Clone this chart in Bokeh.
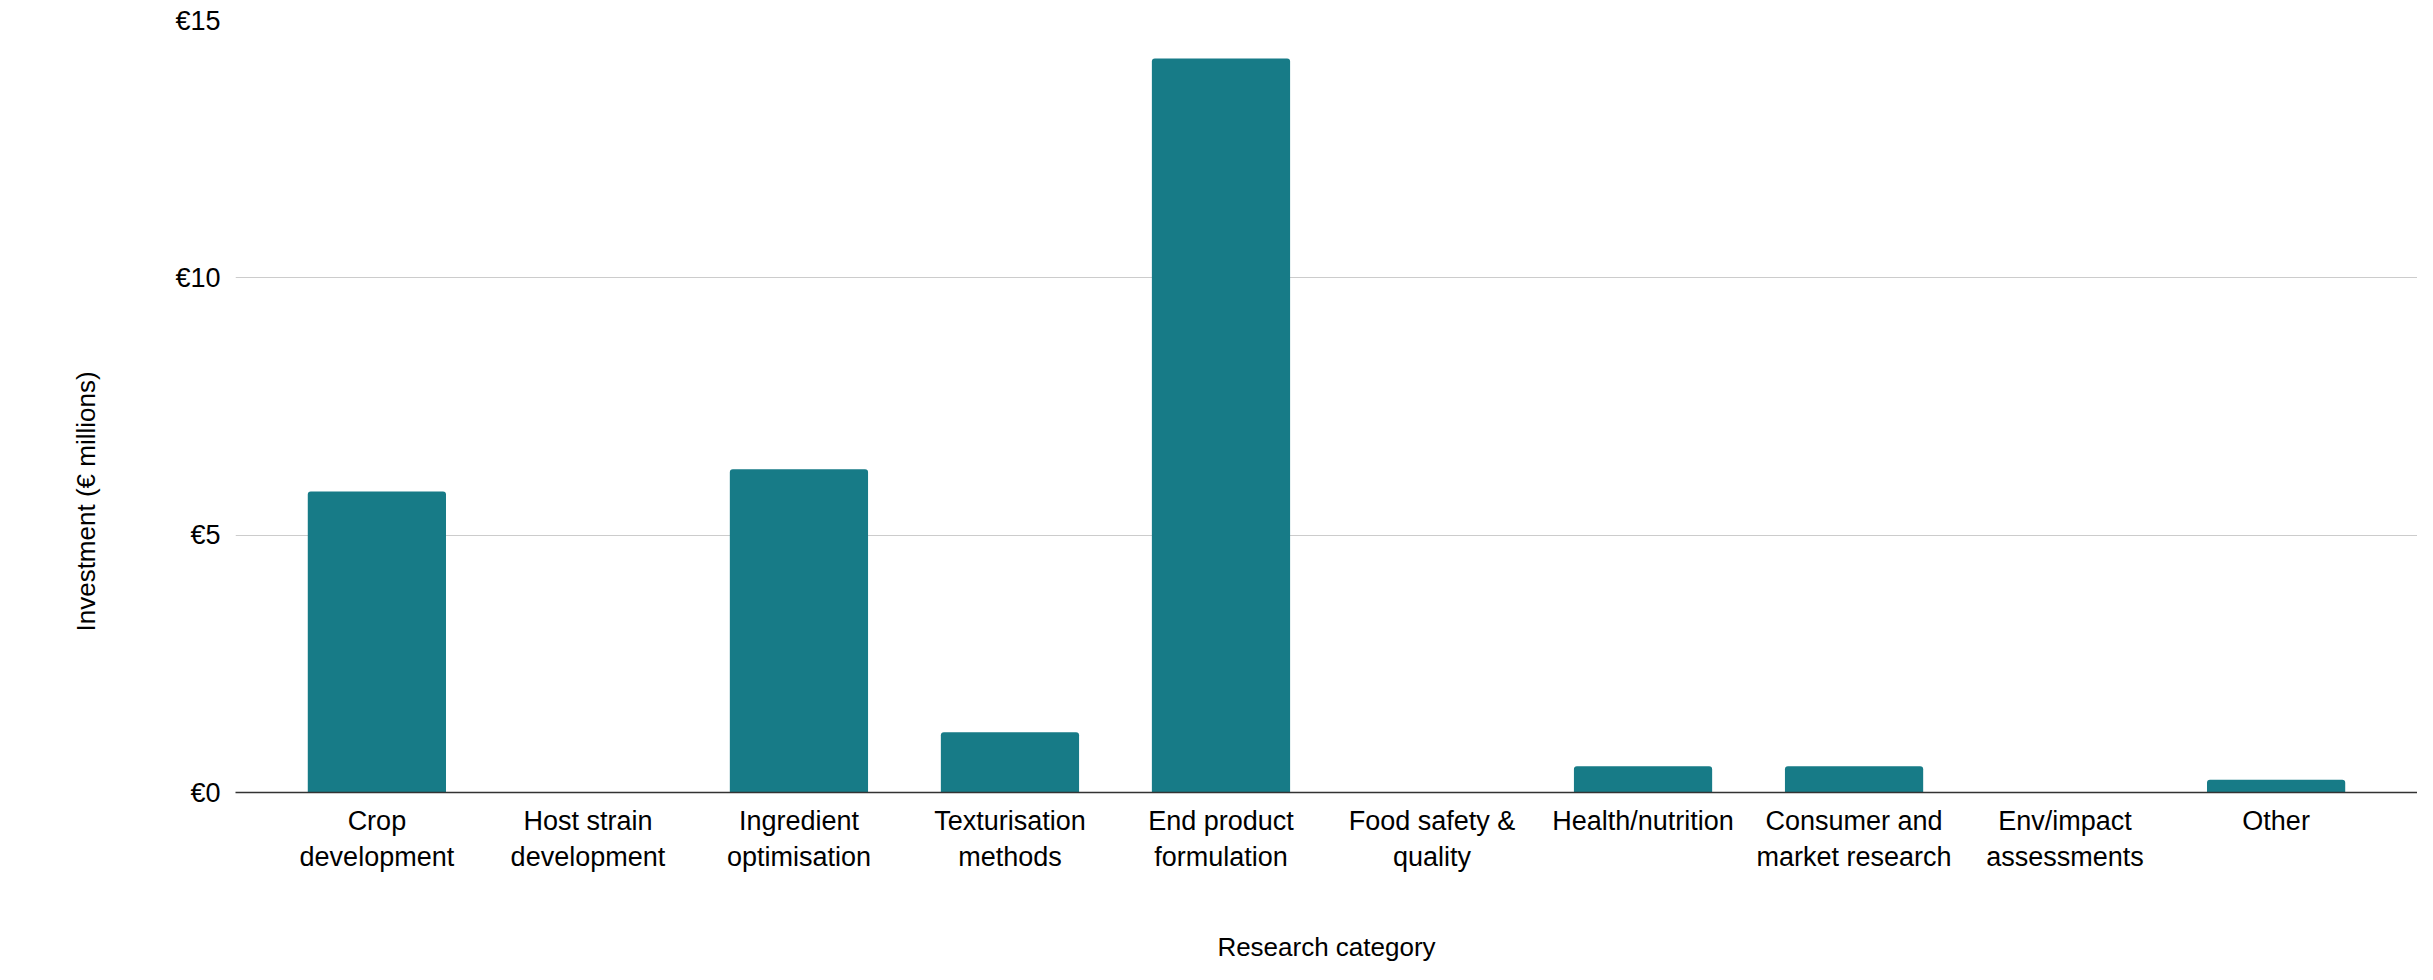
import math
from bokeh.plotting import figure
from bokeh.models import ColumnDataSource, FactorRange, Range1d, FixedTicker, Title
from bokeh.embed import file_html
from bokeh.resources import INLINE

categories = [
    "Crop\ndevelopment",
    "Host strain\ndevelopment",
    "Ingredient\noptimisation",
    "Texturisation\nmethods",
    "End product\nformulation",
    "Food safety &\nquality",
    "Health/nutrition",
    "Consumer and\nmarket research",
    "Env/impact\nassessments",
    "Other",
]
investment = [5.85, 0.0, 6.28, 1.17, 14.26, 0.0, 0.51, 0.51, 0.0, 0.25]
y_ticks = [0, 5, 10, 15]
y_tick_labels = {0: "€0", 5: "€5", 10: "€10", 15: "€15"}

FONT = "Liberation Sans"
BAR = "#177B87"

src = ColumnDataSource(data=dict(cat=categories, val=investment))

p = figure(
    width=2417, height=964,
    x_range=FactorRange(factors=categories, range_padding=0.034),
    y_range=Range1d(0, 15),
    output_backend="svg", toolbar_location=None,
    min_border_left=233, min_border_right=0, min_border_top=20, min_border_bottom=150,
)
p.outline_line_color = None

p.vbar(x="cat", top="val", width=0.655, source=src, fill_color=BAR, line_color=None,
       border_radius=(3, 3, 0, 0))

# y axis
p.yaxis.ticker = FixedTicker(ticks=y_ticks)
p.yaxis.major_label_overrides = {k: v for k, v in y_tick_labels.items()}
p.yaxis.axis_line_color = None
p.yaxis.major_tick_line_color = None
p.yaxis.minor_tick_line_color = None
p.yaxis.major_tick_out = 0
p.yaxis.major_tick_in = 0
p.yaxis.minor_tick_out = 0
p.yaxis.major_label_text_font = FONT
p.yaxis.major_label_text_font_size = "27px"
p.yaxis.major_label_text_color = "#000000"
p.yaxis.major_label_standoff = 15

p.ygrid.grid_line_color = "#cccccc"
p.ygrid.grid_line_width = 1.2
p.xgrid.grid_line_color = None

# x axis
p.xaxis.axis_line_color = "#333333"
p.xaxis.axis_line_width = 1.5
p.xaxis.major_tick_line_color = None
p.xaxis.minor_tick_line_color = None
p.xaxis.major_tick_out = 0
p.xaxis.major_tick_in = 0
p.xaxis.minor_tick_out = 0
p.xaxis.major_label_text_font = FONT
p.xaxis.major_label_text_font_size = "27px"
p.xaxis.major_label_text_color = "#000000"
p.xaxis.major_label_standoff = 13
p.xaxis.major_label_orientation = "horizontal"
p.xaxis.axis_label = "Research category"
p.xaxis.axis_label_text_font = FONT
p.xaxis.axis_label_text_font_size = "26px"
p.xaxis.axis_label_text_font_style = "normal"
p.xaxis.axis_label_text_color = "#000000"
p.xaxis.axis_label_standoff = 57

ytitle = Title(text="Investment (€ millions)", align="left", vertical_align="top",
               offset=161, standoff=140,
               text_font=FONT, text_font_size="26px", text_font_style="normal",
               text_color="#000000")
p.add_layout(ytitle, "left")

open("out.html", "w").write(file_html(p, INLINE))
